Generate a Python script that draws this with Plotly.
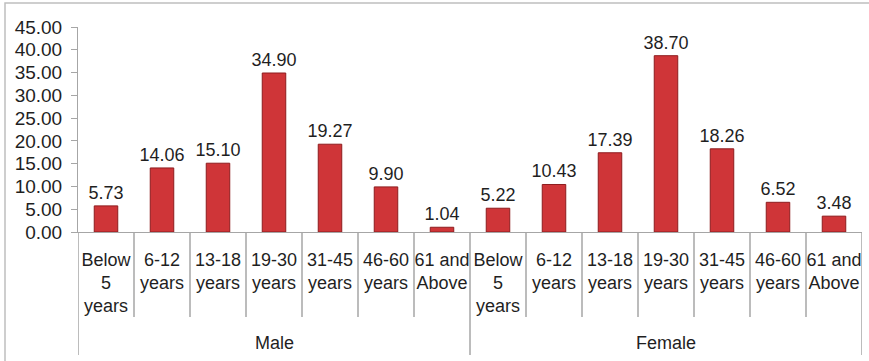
import plotly.graph_objects as go

groups = ["Male", "Female"]
age_groups = ["Below<br>5<br>years", "6-12<br>years", "13-18<br>years", "19-30<br>years",
              "31-45<br>years", "46-60<br>years", "61 and<br>Above"]
male_values = [5.73, 14.06, 15.10, 34.90, 19.27, 9.90, 1.04]
female_values = [5.22, 10.43, 17.39, 38.70, 18.26, 6.52, 3.48]
y_ticks = [0, 5, 10, 15, 20, 25, 30, 35, 40, 45]

values = male_values + female_values
labels = age_groups + age_groups
n_sub = len(age_groups)
xpos = list(range(len(values)))

W, H = 869, 361
L, R, T, B = 78, 7, 27, 129
pw, ph = W - L - R, H - T - B

FONT = "Arial, Liberation Sans, sans-serif"
AX = "#A6A6A6"
TXT = "#1F1F1F"

fig = go.Figure()
fig.add_trace(go.Bar(
    x=xpos,
    y=values,
    width=0.42,
    marker=dict(color="#CF3538", line=dict(color="#8E1C1E", width=1)),
    text=[f"{v:.2f}" for v in values],
    textposition="outside",
    constraintext="none",
    textfont=dict(family=FONT, size=18, color=TXT),
    cliponaxis=False,
    hoverinfo="skip",
))

fig.update_layout(
    width=W, height=H,
    margin=dict(l=L, r=R, t=T, b=B, pad=0),
    paper_bgcolor="white", plot_bgcolor="white",
    showlegend=False,
    font=dict(family=FONT, size=18, color=TXT),
)
fig.update_xaxes(
    range=[-0.5, len(values) - 0.5],
    tickvals=xpos, ticktext=labels,
    showline=True, linecolor=AX, linewidth=1,
    showgrid=False, zeroline=False,
    ticks="", ticklabelstandoff=11,
    tickfont=dict(family=FONT, size=18, color=TXT),
)
fig.update_yaxes(
    range=[0, 45], tickvals=y_ticks, tickformat=".2f",
    showline=True, linecolor=AX, linewidth=1,
    showgrid=False, zeroline=False,
    ticks="outside", ticklen=6, tickcolor=AX,
    ticklabelstandoff=5,
    tickfont=dict(family=FONT, size=19, color=TXT),
)

def py_to_paper(py):
    return (H - B - py) / ph

# category boundary lines and group dividers
for i in range(len(values) + 1):
    is_group = (i % n_sub == 0)
    fig.add_shape(type="line", xref="x", yref="paper",
                  x0=i - 0.5, x1=i - 0.5,
                  y0=0, y1=py_to_paper(355 if is_group else 317),
                  line=dict(color=AX, width=1.5))

# group labels
for g, name in enumerate(groups):
    fig.add_annotation(x=g * n_sub + (n_sub - 1) / 2, xref="x",
                       y=py_to_paper(343), yref="paper", yanchor="middle",
                       text=name, showarrow=False,
                       font=dict(family=FONT, size=18, color=TXT))

# outer chart border
fig.add_shape(type="rect", xref="paper", yref="paper",
              x0=(5 - L) / pw, x1=(880 - L) / pw,
              y0=py_to_paper(380), y1=py_to_paper(3),
              line=dict(color="#BFBFBF", width=1.5), layer="below")

fig.write_html("out.html")
